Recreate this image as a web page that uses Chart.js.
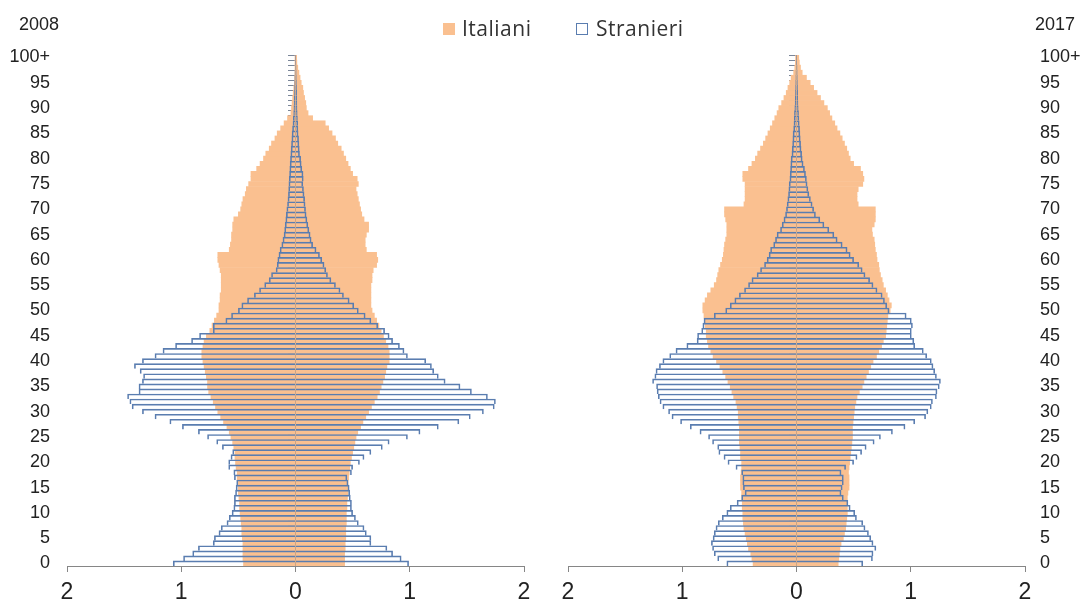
<!DOCTYPE html>
<html>
<head>
<meta charset="utf-8">
<script src="https://cdn.jsdelivr.net/npm/chart.js@4.4.0/dist/chart.umd.min.js"></script>
<style>
  body { margin: 0; background: #fff; width: 1083px; height: 601px; overflow: hidden; position: relative; }
  canvas { position: absolute; top: 0; }
  #c08 { left: 0; }
  #c17 { left: 545px; }
  .year { position: absolute; top: 15px; font: 18px 'Liberation Sans', Arial, sans-serif; color: #222; line-height: 18px; }
  .sw { position: absolute; top: 23px; width: 12px; height: 12px; box-sizing: border-box; }
  .lt { position: absolute; top: 15px; font: 21px 'Open Sans', sans-serif; color: #333; line-height: 26px; letter-spacing: 0.5px; }
</style>
</head>
<body>
<canvas id="c08" width="545" height="601"></canvas>
<canvas id="c17" width="538" height="601"></canvas>
<div class="year" style="left:19px">2008</div>
<div class="year" style="left:1035px">2017</div>
<div class="sw" style="left:443px; background:#fac090"></div>
<div class="lt" style="left:462px">Italiani</div>
<div class="sw" style="left:576px; background:#fff; border:1px solid #5a7db0"></div>
<div class="lt" style="left:596px">Stranieri</div>
<script>
// age classes 0 ... 100+
const ages = Array.from({ length: 101 }, (_, i) => i === 100 ? '100+' : String(i));

// 2008, % of population by single year of age (males left, females right)
const italianiM2008 = [
  0.455, 0.46, 0.46, 0.46, 0.46, 0.465, 0.47, 0.47, 0.475, 0.48,
  0.485, 0.49, 0.49, 0.495, 0.50, 0.50, 0.505, 0.51, 0.51, 0.52,
  0.525, 0.53, 0.53, 0.54, 0.55, 0.565, 0.58, 0.60, 0.63, 0.655,
  0.68, 0.70, 0.72, 0.74, 0.76, 0.77, 0.77, 0.78, 0.79, 0.80,
  0.81, 0.82, 0.82, 0.81, 0.80, 0.78, 0.75, 0.73, 0.71, 0.69,
  0.67, 0.67, 0.66, 0.66, 0.65, 0.65, 0.65, 0.65, 0.66, 0.67,
  0.68, 0.68, 0.58, 0.57, 0.56, 0.56, 0.55, 0.55, 0.54, 0.50,
  0.48, 0.47, 0.46, 0.44, 0.43, 0.41, 0.39, 0.39, 0.34, 0.31,
  0.28, 0.26, 0.23, 0.21, 0.18, 0.16, 0.13, 0.10, 0.07, 0.04,
  0.035, 0.03, 0.025, 0.02, 0.015, 0.01, 0.008, 0.005, 0.004, 0.003, 0.003
];
const italianiF2008 = [
  0.43, 0.43, 0.43, 0.435, 0.435, 0.44, 0.44, 0.44, 0.445, 0.445,
  0.445, 0.45, 0.45, 0.455, 0.46, 0.46, 0.46, 0.465, 0.47, 0.475,
  0.48, 0.49, 0.50, 0.51, 0.52, 0.53, 0.545, 0.57, 0.59, 0.615,
  0.64, 0.665, 0.69, 0.715, 0.735, 0.75, 0.765, 0.78, 0.79, 0.80,
  0.82, 0.82, 0.82, 0.81, 0.79, 0.77, 0.75, 0.73, 0.71, 0.69,
  0.67, 0.66, 0.66, 0.66, 0.66, 0.66, 0.67, 0.67, 0.68, 0.71,
  0.72, 0.71, 0.62, 0.61, 0.61, 0.62, 0.64, 0.64, 0.60, 0.58,
  0.57, 0.56, 0.55, 0.54, 0.53, 0.55, 0.54, 0.50, 0.48, 0.46,
  0.44, 0.42, 0.40, 0.37, 0.35, 0.32, 0.29, 0.26, 0.15, 0.11,
  0.095, 0.09, 0.08, 0.07, 0.064, 0.05, 0.04, 0.03, 0.02, 0.012, 0.01
];
const stranieriM2008 = [
  1.07, 0.98, 0.90, 0.85, 0.72, 0.71, 0.67, 0.65, 0.60, 0.58,
  0.555, 0.54, 0.535, 0.535, 0.525, 0.52, 0.515, 0.535, 0.54, 0.585,
  0.585, 0.565, 0.55, 0.64, 0.69, 0.77, 0.85, 0.99, 1.10, 1.23,
  1.34, 1.43, 1.45, 1.47, 1.37, 1.37, 1.34, 1.33, 1.36, 1.41,
  1.34, 1.23, 1.16, 1.05, 0.91, 0.84, 0.72, 0.72, 0.61, 0.56,
  0.50, 0.47, 0.42, 0.36, 0.315, 0.27, 0.23, 0.21, 0.17, 0.16,
  0.155, 0.145, 0.135, 0.12, 0.11, 0.10, 0.095, 0.09, 0.085, 0.08,
  0.076, 0.07, 0.066, 0.062, 0.06, 0.058, 0.055, 0.052, 0.05, 0.047,
  0.044, 0.041, 0.038, 0.035, 0.032, 0.03, 0.026, 0.022, 0.019, 0.016,
  0.014, 0.012, 0.01, 0.009, 0.008, 0.007, 0.006, 0.005, 0.004, 0.003, 0.003
];
const stranieriF2008 = [
  0.99, 0.925, 0.85, 0.80, 0.66, 0.66, 0.62, 0.60, 0.55, 0.525,
  0.50, 0.49, 0.49, 0.48, 0.475, 0.47, 0.46, 0.45, 0.49, 0.50,
  0.56, 0.60, 0.66, 0.76, 0.82, 0.98, 1.09, 1.25, 1.43, 1.53,
  1.645, 1.74, 1.75, 1.68, 1.54, 1.44, 1.31, 1.25, 1.21, 1.19,
  1.14, 0.98, 0.95, 0.91, 0.85, 0.82, 0.78, 0.72, 0.66, 0.61,
  0.55, 0.51, 0.47, 0.42, 0.39, 0.35, 0.31, 0.28, 0.265, 0.25,
  0.23, 0.21, 0.18, 0.15, 0.137, 0.128, 0.117, 0.108, 0.10, 0.093,
  0.088, 0.084, 0.08, 0.075, 0.07, 0.064, 0.068, 0.066, 0.055, 0.05,
  0.045, 0.035, 0.033, 0.03, 0.027, 0.023, 0.021, 0.019, 0.017, 0.015,
  0.013, 0.012, 0.011, 0.01, 0.009, 0.008, 0.007, 0.006, 0.005, 0.004, 0.004
];

// 2017
const italianiM2017 = [
  0.38, 0.39, 0.40, 0.42, 0.43, 0.44, 0.45, 0.46, 0.465, 0.47,
  0.47, 0.475, 0.475, 0.48, 0.48, 0.49, 0.49, 0.49, 0.485, 0.48,
  0.48, 0.49, 0.49, 0.495, 0.50, 0.50, 0.50, 0.50, 0.505, 0.51,
  0.51, 0.52, 0.53, 0.55, 0.565, 0.58, 0.60, 0.62, 0.645, 0.67,
  0.70, 0.73, 0.75, 0.77, 0.78, 0.79, 0.79, 0.80, 0.80, 0.81,
  0.82, 0.82, 0.80, 0.78, 0.75, 0.72, 0.70, 0.69, 0.68, 0.665,
  0.65, 0.64, 0.635, 0.63, 0.62, 0.61, 0.61, 0.61, 0.62, 0.63,
  0.63, 0.46, 0.45, 0.45, 0.45, 0.45, 0.47, 0.47, 0.42, 0.39,
  0.36, 0.34, 0.315, 0.29, 0.27, 0.25, 0.23, 0.21, 0.19, 0.17,
  0.155, 0.13, 0.11, 0.09, 0.075, 0.06, 0.047, 0.025, 0.015, 0.01, 0.008
];
const italianiF2017 = [
  0.365, 0.37, 0.375, 0.38, 0.39, 0.41, 0.42, 0.43, 0.435, 0.44,
  0.445, 0.445, 0.445, 0.445, 0.45, 0.46, 0.46, 0.46, 0.455, 0.46,
  0.465, 0.47, 0.475, 0.48, 0.485, 0.49, 0.49, 0.49, 0.495, 0.50,
  0.505, 0.51, 0.52, 0.53, 0.55, 0.575, 0.59, 0.61, 0.63, 0.65,
  0.67, 0.70, 0.72, 0.745, 0.76, 0.78, 0.785, 0.79, 0.795, 0.80,
  0.82, 0.83, 0.81, 0.795, 0.78, 0.76, 0.75, 0.735, 0.725, 0.72,
  0.705, 0.70, 0.69, 0.685, 0.68, 0.665, 0.66, 0.68, 0.69, 0.69,
  0.69, 0.54, 0.53, 0.53, 0.54, 0.58, 0.59, 0.58, 0.56, 0.50,
  0.47, 0.455, 0.44, 0.42, 0.40, 0.38, 0.355, 0.335, 0.31, 0.29,
  0.27, 0.24, 0.21, 0.18, 0.15, 0.12, 0.087, 0.05, 0.035, 0.025, 0.02
];
const stranieriM2017 = [
  0.61, 0.69, 0.72, 0.735, 0.745, 0.73, 0.72, 0.705, 0.685, 0.65,
  0.61, 0.58, 0.52, 0.48, 0.45, 0.465, 0.47, 0.47, 0.48, 0.53,
  0.60, 0.635, 0.68, 0.69, 0.735, 0.77, 0.845, 0.93, 1.015, 1.09,
  1.12, 1.17, 1.195, 1.21, 1.22, 1.225, 1.26, 1.24, 1.23, 1.20,
  1.17, 1.11, 1.055, 0.96, 0.87, 0.866, 0.83, 0.82, 0.81, 0.72,
  0.62, 0.58, 0.54, 0.50, 0.455, 0.42, 0.39, 0.345, 0.315, 0.28,
  0.257, 0.24, 0.227, 0.20, 0.184, 0.17, 0.14, 0.125, 0.11, 0.096,
  0.088, 0.082, 0.076, 0.07, 0.067, 0.064, 0.058, 0.055, 0.052, 0.05,
  0.047, 0.04, 0.037, 0.034, 0.032, 0.03, 0.025, 0.022, 0.02, 0.018,
  0.015, 0.012, 0.01, 0.009, 0.008, 0.007, 0.006, 0.005, 0.004, 0.003, 0.003
];
const stranieriF2017 = [
  0.58, 0.665, 0.67, 0.695, 0.67, 0.65, 0.63, 0.60, 0.58, 0.525,
  0.51, 0.47, 0.45, 0.41, 0.39, 0.40, 0.41, 0.41, 0.39, 0.43,
  0.50, 0.53, 0.57, 0.61, 0.68, 0.735, 0.84, 0.95, 1.035, 1.13,
  1.15, 1.18, 1.19, 1.225, 1.23, 1.25, 1.26, 1.225, 1.21, 1.195,
  1.18, 1.14, 1.11, 1.035, 1.027, 1.005, 1.005, 1.015, 1.005, 0.96,
  0.81, 0.79, 0.77, 0.75, 0.705, 0.67, 0.64, 0.60, 0.575, 0.545,
  0.50, 0.47, 0.443, 0.40, 0.356, 0.327, 0.283, 0.24, 0.204, 0.166,
  0.15, 0.137, 0.122, 0.108, 0.10, 0.093, 0.087, 0.079, 0.07, 0.058,
  0.05, 0.045, 0.04, 0.036, 0.033, 0.03, 0.027, 0.024, 0.021, 0.018,
  0.015, 0.013, 0.011, 0.01, 0.009, 0.008, 0.007, 0.006, 0.005, 0.004, 0.004
];

const orange = '#fac090';
const blue = '#5a7db0';
const axisGrey = '#868686';

Chart.defaults.font.family = "'Liberation Sans', Arial, sans-serif";
Chart.defaults.color = '#222';

function makePyramid(id, itM, itF, stM, stF, side) {
  const neg = arr => arr.map(v => -v);
  const fill = { backgroundColor: orange, borderWidth: 0, order: 2 };
  const outline = {
    backgroundColor: 'rgba(255,255,255,0)',
    borderColor: blue,
    borderWidth: { top: 1, right: 1, bottom: 0, left: 1 },
    order: 1
  };
  const left = side === 'left';

  return new Chart(document.getElementById(id), {
    type: 'bar',
    data: {
      labels: ages,
      datasets: [
        { label: 'Italiani', data: neg(itM), ...fill },
        { label: 'Italiani', data: itF, ...fill },
        { label: 'Stranieri', data: neg(stM), ...outline },
        { label: 'Stranieri', data: stF, ...outline }
      ]
    },
    options: {
      indexAxis: 'y',
      responsive: false,
      animation: false,
      datasets: {
        bar: { grouped: false, barPercentage: 1, categoryPercentage: 1 }
      },
      layout: {
        padding: left ? { top: 55, right: 21, bottom: 0, left: 0 }
                      : { top: 55, right: 0, bottom: 0, left: 23 }
      },
      scales: {
        x: {
          min: -2,
          max: 2,
          ticks: {
            stepSize: 1,
            padding: 7,
            font: { size: 23 },
            callback: v => Math.abs(v)
          },
          grid: { drawOnChartArea: false, drawTicks: true, tickLength: 6, tickColor: axisGrey },
          border: { display: true, color: axisGrey, width: 1 },
          afterFit: s => { s.height = 35; }
        },
        y: {
          position: side,
          reverse: true,
          ticks: {
            autoSkip: false,
            padding: left ? 17 : 15,
            font: { size: 18 },
            callback: function (v) { return v % 5 === 0 ? this.getLabelForValue(v) : ''; }
          },
          grid: { display: false, drawTicks: false },
          border: { display: false },
          afterFit: s => { s.width = left ? 67 : 58; }
        },
        yc: {
          axis: 'y',
          type: 'category',
          position: { x: 0 },
          reverse: true,
          offset: true,
          z: 1,
          ticks: { display: false, autoSkip: false },
          grid: { offset: true, drawOnChartArea: false, drawTicks: true, tickLength: 7, tickColor: '#7a8699' },
          border: { display: true, color: axisGrey, width: 1 }
        }
      },
      plugins: {
        legend: { display: false },
        tooltip: { enabled: false }
      }
    }
  });
}

makePyramid('c08', italianiM2008, italianiF2008, stranieriM2008, stranieriF2008, 'left');
makePyramid('c17', italianiM2017, italianiF2017, stranieriM2017, stranieriF2017, 'right');
</script>
</body>
</html>
